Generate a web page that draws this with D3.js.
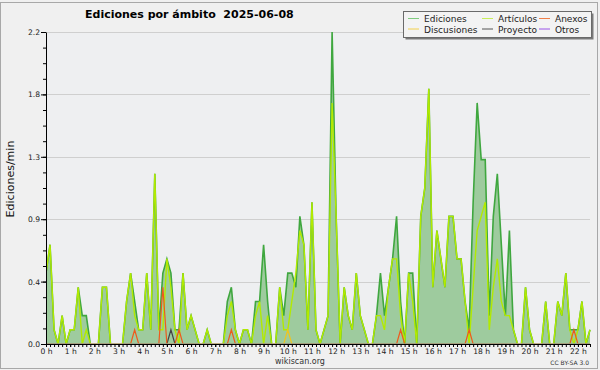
<!DOCTYPE html>
<html>
<head>
<meta charset="utf-8">
<script src="https://cdnjs.cloudflare.com/ajax/libs/d3/7.8.5/d3.min.js"></script>
<style>
  body { margin: 0; background: #f0f0f0; }
  svg { display: block; font-family: "DejaVu Sans", sans-serif; }
</style>
</head>
<body>
<div id="chart"></div>
<script>
// edits per minute, one value per 10 minute slot (0:00 .. 22:30)
var ediciones = [
  0.5,0.7,0.1,0,0.2,0,0.1,0.1,0.4,0.2,
  0.2,0,0,0,0.4,0.4,0,0,0,0,
  0.3,0.5,0.3,0.1,0.1,0.5,0.1,1.2,0.1,0.5,
  0.6,0.5,0.1,0.1,0.5,0.1,0.2,0.1,0,0,
  0.1,0,0,0,0,0.3,0.4,0.1,0,0.1,
  0.1,0,0.3,0.3,0.7,0.3,0,0,0.4,0.2,
  0.5,0.5,0.4,0.9,0.7,0.1,1.0,0.1,0,0.1,
  0.2,2.2,0.9,0,0.4,0.2,0.1,0.5,0.2,0.1,
  0,0,0.2,0.5,0.2,0.4,0.6,0.9,0.3,0,
  0.5,0.5,0,0.9,1.1,1.8,0.4,0.8,0.6,0.4,
  0.9,0.9,0.6,0.6,0.3,0.1,1.0,1.7,1.3,1.3,
  0.2,0.9,1.2,0.7,0.2,0.8,0.1,0,0,0.4,
  0.1,0,0,0,0.3,0,0,0.3,0.2,0.5,
  0.1,0.1,0.1,0.3,0,0.1
];
var articulos = [
  0.5,0.7,0.1,0,0.2,0,0.1,0.1,0.4,0,
  0.1,0,0,0,0.4,0.4,0,0,0,0,
  0.3,0.5,0.2,0.1,0.1,0.5,0.1,1.2,0.1,0.1,
  0.6,0.4,0.1,0,0.5,0.1,0.2,0.1,0,0,
  0.1,0,0,0,0,0.2,0.3,0.1,0,0.1,
  0.1,0,0.2,0.3,0,0.2,0,0,0.4,0.1,
  0.1,0.3,0.5,0.8,0.7,0.1,1.0,0.1,0,0.1,
  0.2,1.7,0.9,0,0.4,0.2,0.1,0.5,0.2,0.1,
  0,0,0.2,0.2,0.1,0.4,0.6,0.6,0.2,0,
  0.5,0.3,0,0.9,1.1,1.8,0.4,0.8,0.6,0.4,
  0.9,0.9,0.6,0.6,0.3,0,0.4,0.8,0.9,1.0,
  0.1,0.4,0.6,0.3,0.2,0.2,0.1,0,0,0.4,
  0.1,0,0,0,0.3,0,0,0.3,0.2,0.5,
  0.1,0,0.1,0.3,0,0.1
];
// the small series are mostly empty: [slot, value]
var anexosPeaks = [[22,0.1],[29,0.4],[33,0.1],[46,0.1],[88,0.1],[105,0.1],[131,0.1]];
var discusionesPeaks = [[60,0.1]];
var proyectoPeaks = [[31,0.1]];
var otrosPeaks = [];

var hourLabels = ["0 h","1 h","2 h","3 h","4 h","5 h","6 h","7 h","8 h","9 h","10 h","11 h",
  "12 h","13 h","14 h","15 h","16 h","17 h","18 h","19 h","20 h","21 h","22 h"];
var yTicks = [0, 0.44, 0.88, 1.32, 1.76, 2.2];

var legendNames = ["Ediciones", "Artículos", "Anexos", "Discusiones", "Proyecto", "Otros"];
var legendColors = ["#7fcb7f", "#c8ee5a", "#f0804a", "#f2d04a", "#555555", "#9a55e8"];

var fillSparse = function(peaks) {
  var arr = ediciones.map(function() { return 0; });
  peaks.forEach(function(p) { arr[p[0]] = p[1]; });
  return arr;
};
var anexos = fillSparse(anexosPeaks),
  discusiones = fillSparse(discusionesPeaks),
  proyecto = fillSparse(proyectoPeaks),
  otros = fillSparse(otrosPeaks);

var width = 600,
  height = 370,
  plot = { left: 46, right: 590, top: 32, bottom: 344 };

var svg = d3.select("#chart").append("svg")
  .attr("width", width)
  .attr("height", height);

// outer frame
svg.append("rect")
  .attr("x", 0.5).attr("y", 2.5)
  .attr("width", 597).attr("height", 366)
  .attr("fill", "#f0f0f0")
  .attr("stroke", "#a8a8a8");

svg.append("rect")
  .attr("x", plot.left).attr("y", plot.top)
  .attr("width", plot.right - plot.left).attr("height", plot.bottom - plot.top)
  .attr("fill", "#eeeff1");

var x = d3.scaleLinear().domain([0, ediciones.length - 1]).range([plot.left, plot.right]);
var y = d3.scaleLinear().domain([0, 2.2]).range([plot.bottom, plot.top]);

// horizontal grid
svg.append("g")
  .selectAll("line")
  .data(yTicks.slice(1))
  .enter().append("line")
  .attr("x1", plot.left)
  .attr("x2", plot.right)
  .attr("y1", function(d) { return Math.round(y(d)) + 0.5; })
  .attr("y2", function(d) { return Math.round(y(d)) + 0.5; })
  .attr("stroke", "#cfcfcf");

svg.append("clipPath").attr("id", "clip")
  .append("rect")
  .attr("x", plot.left).attr("y", 0)
  .attr("width", plot.right - plot.left + 2).attr("height", plot.bottom - 0.8);

var area = d3.area()
  .x(function(d, i) { return x(i); })
  .y0(plot.bottom)
  .y1(function(d) { return y(d); });

var line = d3.line()
  .x(function(d, i) { return x(i); })
  .y(function(d) { return y(d); });

svg.append("path")
  .datum(ediciones)
  .attr("d", area)
  .attr("fill", "#9ecb9e");

var series = [
  { data: ediciones, color: "#3fa73f", w: 1.6 },
  { data: articulos, color: "#b2ea00", w: 1.4 },
  { data: otros, color: "#9933ee", w: 1.2 },
  { data: discusiones, color: "#f0c420", w: 1.2 },
  { data: proyecto, color: "#444444", w: 1.2 },
  { data: anexos, color: "#ee5a1c", w: 1.2 }
];

svg.append("g")
  .attr("clip-path", "url(#clip)")
  .selectAll("path")
  .data(series)
  .enter().append("path")
  .attr("d", function(d) { return line(d.data); })
  .attr("fill", "none")
  .attr("stroke", function(d) { return d.color; })
  .attr("stroke-width", function(d) { return d.w; })
  .attr("stroke-linejoin", "miter");

// x axis: a tick every 10 minutes, a label every hour
var hourSlots = hourLabels.map(function(l, i) { return i * 6; });

svg.append("g")
  .attr("transform", "translate(0," + plot.bottom + ")")
  .call(d3.axisBottom(x).tickValues(d3.range(0, ediciones.length)).tickSize(3).tickSizeOuter(0).tickFormat(""))
  .call(function(g) { g.selectAll("line").attr("stroke", "#000"); });

var xAxis = svg.append("g")
  .attr("transform", "translate(0," + plot.bottom + ")")
  .call(d3.axisBottom(x)
    .tickValues(hourSlots)
    .tickSize(3)
    .tickSizeOuter(0)
    .tickFormat(function(d, i) { return hourLabels[i]; }));
xAxis.select(".domain").attr("stroke", "#000");
xAxis.selectAll("text")
  .attr("y", 5)
  .attr("font-size", "7.6px")
  .attr("font-family", "DejaVu Sans")
  .attr("fill", "#222");

// y axis
svg.append("g")
  .attr("transform", "translate(" + plot.left + ",0)")
  .call(d3.axisLeft(y).tickValues(d3.range(0, 2.2001, 0.11)).tickSize(3).tickSizeOuter(0).tickFormat(""))
  .call(function(g) { g.select(".domain").remove(); });

var yAxis = svg.append("g")
  .attr("transform", "translate(" + plot.left + ",0)")
  .call(d3.axisLeft(y)
    .tickValues(yTicks)
    .tickSize(5)
    .tickSizeOuter(0)
    .tickFormat(d3.format(".1f")));
yAxis.select(".domain").attr("stroke", "#000");
yAxis.selectAll("text")
  .attr("x", -6)
  .attr("font-size", "7.6px")
  .attr("font-family", "DejaVu Sans")
  .attr("fill", "#222");

// titles
svg.append("text")
  .attr("x", 85)
  .attr("y", 18)
  .attr("font-size", "11px")
  .attr("font-weight", "bold")
  .attr("fill", "#000")
  .style("white-space", "pre")
  .text("Ediciones por ámbito  2025-06-08");

svg.append("text")
  .attr("transform", "translate(14,179) rotate(-90)")
  .attr("text-anchor", "middle")
  .attr("font-size", "11px")
  .attr("fill", "#111")
  .text("Ediciones/min");

svg.append("text")
  .attr("x", 300)
  .attr("y", 364)
  .attr("text-anchor", "middle")
  .attr("font-size", "8px")
  .attr("fill", "#333")
  .text("wikiscan.org");

svg.append("text")
  .attr("x", 589)
  .attr("y", 365)
  .attr("text-anchor", "end")
  .attr("font-size", "6px")
  .attr("fill", "#333")
  .text("CC BY-SA 3.0");

// legend
var legend = svg.append("g").attr("class", "legend");
legend.append("rect")
  .attr("x", 405.5).attr("y", 13.5)
  .attr("width", 188).attr("height", 26)
  .attr("fill", "#7a7a7a");
legend.append("rect")
  .attr("x", 403.5).attr("y", 11.5)
  .attr("width", 188).attr("height", 26)
  .attr("fill", "#f3f3f3")
  .attr("stroke", "#6a6a6a");

var colX = [408, 482, 539],
  rowY = [18.5, 29];

var li = legend.selectAll("g.item")
  .data(legendNames)
  .enter().append("g")
  .attr("class", "item")
  .attr("transform", function(d, i) { return "translate(" + colX[i % 3] + "," + rowY[Math.floor(i / 3)] + ")"; });

li.append("line")
  .attr("x1", 0).attr("x2", 11)
  .attr("y1", 0).attr("y2", 0)
  .attr("stroke", function(d, i) { return legendColors[i]; })
  .attr("stroke-width", 1);

li.append("text")
  .attr("x", 16)
  .attr("y", 3.5)
  .attr("font-size", "9px")
  .attr("fill", "#222")
  .text(function(d) { return d; });
</script>
</body>
</html>
